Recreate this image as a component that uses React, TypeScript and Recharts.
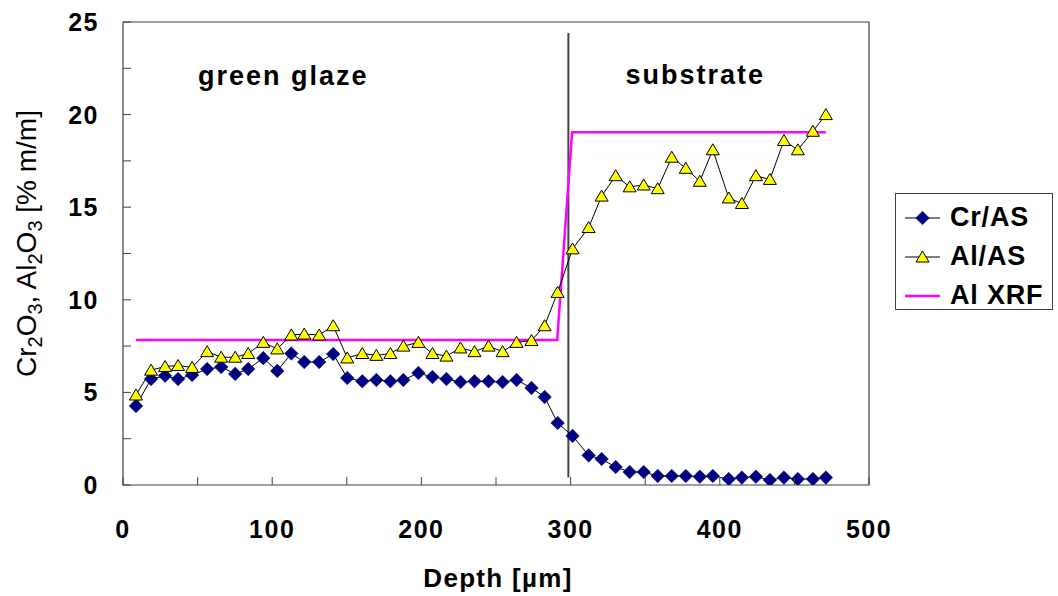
import React from 'react';
import {
  ComposedChart,
  Line,
  XAxis,
  YAxis,
  ReferenceLine,
  ReferenceArea,
  ReferenceDot,
  Legend,
  Label,
} from 'recharts';

// ---------- data ----------
const depth = [
  8.7, 18.8, 28.2, 36.9, 46.3, 56.4, 65.8, 75.2, 83.9, 94.0,
  103.4, 112.8, 121.5, 131.5, 140.9, 150.3, 160.4, 169.8, 179.2, 187.9,
  198.0, 207.4, 216.8, 226.2, 235.6, 245.0, 254.4, 263.8, 273.8, 282.6,
  291.3, 301.3, 312.1, 320.8, 330.2, 339.6, 349.0, 358.4, 367.8, 377.2,
  386.6, 395.3, 406.0, 414.8, 424.2, 433.6, 443.0, 452.3, 462.4, 471.1,
];
const crAS = [
  4.27, 5.72, 5.9, 5.72, 5.94, 6.26, 6.37, 6.0, 6.26, 6.85,
  6.16, 7.1, 6.64, 6.64, 7.07, 5.78, 5.6, 5.67, 5.6, 5.67,
  6.05, 5.83, 5.72, 5.56, 5.6, 5.6, 5.56, 5.67, 5.24, 4.75,
  3.35, 2.65, 1.6, 1.4, 0.97, 0.7, 0.7, 0.49, 0.49, 0.49,
  0.45, 0.49, 0.32, 0.4, 0.45, 0.27, 0.4, 0.32, 0.32, 0.4,
];
const alAS = [
  4.86, 6.2, 6.4, 6.45, 6.35, 7.2, 6.9, 6.9, 7.1, 7.7,
  7.35, 8.1, 8.15, 8.1, 8.6, 6.86, 7.1, 7.0, 7.1, 7.5,
  7.7, 7.1, 6.96, 7.4, 7.2, 7.5, 7.2, 7.7, 7.8, 8.6,
  10.4, 12.75, 13.9, 15.6, 16.7, 16.1, 16.2, 16.0, 17.7, 17.1,
  16.4, 18.1, 15.5, 15.2, 16.7, 16.5, 18.6, 18.1, 19.1, 20.0,
];
const xrfDepth = [8.7, 291, 301, 471];
const xrfAl = [7.83, 7.83, 19.05, 19.05];

const xTicks = [0, 50, 100, 150, 200, 250, 300, 350, 400, 450, 500];
const yTicks = [0, 2.5, 5, 7.5, 10, 12.5, 15, 17.5, 20, 22.5, 25];

const boundaryDepth = 298.5;
const boundaryRange = [0.4, 24.4];

const regionNames = ['green glaze', 'substrate'];
const regionX = [107.4, 383.6];
const regionY = [22.1, 22.2];

const seriesNames = ['Cr/AS', 'Al/AS', 'Al XRF'];

// ---------- derived tables ----------
const crData = depth.map((x, i) => ({ x, y: crAS[i] }));
const alData = depth.map((x, i) => ({ x, y: alAS[i] }));
const xrfData = xrfDepth.map((x, i) => ({ x, y: xrfAl[i] }));

// ---------- styles ----------
const FONT = '"Liberation Sans", Arial, Helvetica, sans-serif';
const NAVY = '#000080';
const YELLOW = '#FFFF00';
const MAGENTA = '#FF00FF';
const FRAME = '#404040';
const LEGEND_W = 158;

// ---------- markers ----------
const Diamond = (props: any) => {
  const { cx, cy, index } = props;
  if (cx == null || cy == null) return <g key={index} />;
  const r = 6.8;
  return (
    <path
      key={index}
      d={`M${cx},${cy - r} L${cx + r},${cy} L${cx},${cy + r} L${cx - r},${cy} Z`}
      fill={NAVY}
      stroke={NAVY}
      strokeWidth={0.5}
    />
  );
};

const Triangle = (props: any) => {
  const { cx, cy, index } = props;
  if (cx == null || cy == null) return <g key={index} />;
  return (
    <path
      key={index}
      d={`M${cx},${cy - 6} L${cx + 6.5},${cy + 5} L${cx - 6.5},${cy + 5} Z`}
      fill={YELLOW}
      stroke="#000"
      strokeWidth={1}
    />
  );
};

// ---------- ticks ----------
const XTick = (props: any) => {
  const { x, y, payload } = props;
  const v = payload.value;
  const major = v % 100 === 0;
  return (
    <g>
      <line x1={x} y1={y} x2={x} y2={y - 8} stroke={FRAME} strokeWidth={1} />
      {major && (
        <text
          x={x}
          y={y + 53}
          textAnchor="middle"
          fontFamily={FONT}
          fontWeight="bold"
          fontSize={25}
          letterSpacing={1.5}
          fill="#000"
        >
          {v}
        </text>
      )}
    </g>
  );
};

const YTick = (props: any) => {
  const { x, y, payload } = props;
  const v = payload.value;
  const major = v % 5 === 0;
  return (
    <g>
      <line x1={x} y1={y} x2={x + 8} y2={y} stroke={FRAME} strokeWidth={1} />
      {major && (
        <text
          x={x - 24}
          y={y}
          dy="0.36em"
          textAnchor="end"
          fontFamily={FONT}
          fontWeight="bold"
          fontSize={25}
          letterSpacing={1.5}
          fill="#000"
        >
          {v}
        </text>
      )}
    </g>
  );
};

// ---------- labels ----------
const YLabel = (props: any) => {
  const vb = props.viewBox || { x: 60, y: 22, width: 63, height: 463 };
  const cx = vb.x - 24;
  const cy = vb.y + vb.height / 2 - 10;
  const sub = 20;
  return (
    <text
      x={cx}
      y={cy}
      transform={`rotate(-90, ${cx}, ${cy})`}
      textAnchor="middle"
      fontFamily={FONT}
      fontSize={28}
      fill="#000"
    >
      Cr
      <tspan dy={6} fontSize={sub}>2</tspan>
      <tspan dy={-6}>O</tspan>
      <tspan dy={6} fontSize={sub}>3</tspan>
      <tspan dy={-6}>{', Al'}</tspan>
      <tspan dy={6} fontSize={sub}>2</tspan>
      <tspan dy={-6}>O</tspan>
      <tspan dy={6} fontSize={sub}>3</tspan>
      <tspan dy={-6}>{' [% m/m]'}</tspan>
    </text>
  );
};

const XLabel = (props: any) => {
  const vb = props.viewBox || { x: 123, y: 485, width: 746, height: 80 };
  return (
    <text
      x={vb.x + vb.width / 2 + 2}
      y={vb.y + 102}
      textAnchor="middle"
      fontFamily={FONT}
      fontWeight="bold"
      fontSize={26}
      letterSpacing={1.3}
      fill="#000"
    >
      Depth [µm]
    </text>
  );
};

const regionLabel = (text: string) => (p: any) => {
  const vb = p.viewBox;
  return (
    <text
      x={vb.x + vb.width / 2}
      y={vb.y + vb.height / 2}
      dy="0.36em"
      textAnchor="middle"
      fontFamily={FONT}
      fontWeight="bold"
      fontSize={27}
      letterSpacing={2}
      fill="#000"
    >
      {text}
    </text>
  );
};

// ---------- legend ----------
const LegendSwatch = ({ idx }: { idx: number }) => (
  <svg width={44} height={24} style={{ display: 'block', flex: '0 0 auto' }}>
    <line
      x1={2}
      y1={12}
      x2={37}
      y2={12}
      stroke={idx === 2 ? MAGENTA : '#000'}
      strokeWidth={idx === 2 ? 2.5 : 1}
    />
    {idx === 0 && <Diamond cx={19.5} cy={12} index={0} />}
    {idx === 1 && <Triangle cx={19.5} cy={12} index={0} />}
  </svg>
);

const LegendBox = () => (
  <div
    style={{
      border: `1px solid ${FRAME}`,
      background: '#fff',
      width: LEGEND_W,
      height: 117,
      boxSizing: 'border-box',
      paddingTop: 4,
      fontFamily: FONT,
      overflow: 'hidden',
    }}
  >
    {seriesNames.map((name, i) => (
      <div
        key={name}
        style={{ display: 'flex', alignItems: 'center', height: 39, paddingLeft: 7 }}
      >
        <LegendSwatch idx={i} />
        <span
          style={{
            fontWeight: 'bold',
            fontSize: 27,
            letterSpacing: 0.8,
            lineHeight: 1,
            marginLeft: 3,
            color: '#000',
            whiteSpace: 'nowrap',
          }}
        >
          {name}
        </span>
      </div>
    ))}
  </div>
);

export default function App() {
  return (
    <div style={{ position: 'absolute', left: 0, top: 0, width: 1058, height: 596, background: '#fff' }}>
      <ComposedChart
        width={1058}
        height={596}
        margin={{ top: 22, right: 189 - LEGEND_W, bottom: 31, left: 60 }}
      >
        <XAxis
          type="number"
          dataKey="x"
          domain={[0, 500]}
          ticks={xTicks}
          interval={0}
          allowDataOverflow
          axisLine={false}
          tickLine={false}
          tickSize={0}
          tickMargin={0}
          height={80}
          tick={<XTick />}
        >
          <Label content={<XLabel />} />
        </XAxis>
        <YAxis
          type="number"
          dataKey="y"
          domain={[0, 25]}
          ticks={yTicks}
          interval={0}
          allowDataOverflow
          axisLine={false}
          tickLine={false}
          tickSize={0}
          tickMargin={0}
          width={63}
          tick={<YTick />}
        >
          <Label content={<YLabel />} />
        </YAxis>

        <ReferenceArea
          x1={0}
          x2={500}
          y1={0}
          y2={25}
          fill="none"
          fillOpacity={0}
          stroke={FRAME}
          strokeWidth={1.2}
        />

        <ReferenceLine
          segment={[
            { x: boundaryDepth, y: boundaryRange[0] },
            { x: boundaryDepth, y: boundaryRange[1] },
          ]}
          stroke="#444"
          strokeWidth={2}
        />

        {regionNames.map((name, i) => (
          <ReferenceDot
            key={name}
            x={regionX[i]}
            y={regionY[i]}
            r={0}
            fill="none"
            stroke="none"
            label={{ content: regionLabel(name) }}
          />
        ))}

        <Line
          name={seriesNames[2]}
          data={xrfData}
          dataKey="y"
          type="linear"
          stroke={MAGENTA}
          strokeWidth={2.5}
          dot={false}
          activeDot={false}
          isAnimationActive={false}
        />
        <Line
          name={seriesNames[0]}
          data={crData}
          dataKey="y"
          type="linear"
          stroke="#000"
          strokeWidth={1}
          dot={<Diamond />}
          activeDot={false}
          isAnimationActive={false}
        />
        <Line
          name={seriesNames[1]}
          data={alData}
          dataKey="y"
          type="linear"
          stroke="#000"
          strokeWidth={1}
          dot={<Triangle />}
          activeDot={false}
          isAnimationActive={false}
        />

        <Legend
          layout="horizontal"
          verticalAlign="middle"
          align="right"
          width={LEGEND_W}
          content={<LegendBox />}
          wrapperStyle={{ left: 895, top: 193, width: LEGEND_W, height: 117 }}
        />
      </ComposedChart>
    </div>
  );
}
